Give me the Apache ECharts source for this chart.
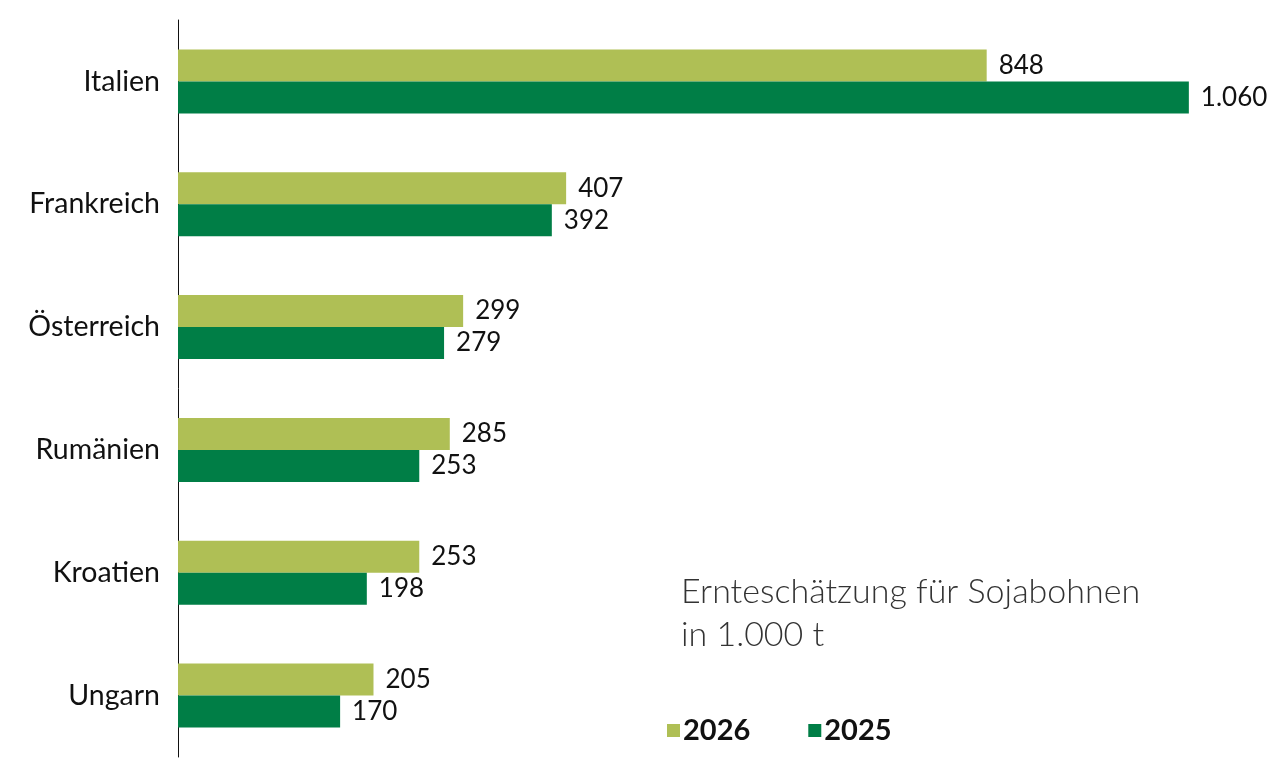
<!DOCTYPE html>
<html><head><meta charset="utf-8">
<script src="https://cdn.jsdelivr.net/npm/echarts@6/dist/echarts.min.js"></script>
<style>html,body{margin:0;padding:0;background:#fff}#c{width:1284px;height:773px}</style>
</head><body><div id="c"></div>
<script>
const categories = ['Italien','Frankreich','Österreich','Rumänien','Kroatien','Ungarn'];
const values2026 = [848, 407, 299, 285, 253, 205];
const values2025 = [1060, 392, 279, 253, 198, 170];
const seriesNames = ['2026','2025'];

const fmt = v => v.toLocaleString('de-DE');
const chart = echarts.init(document.getElementById('c'));
const labelStyle = {show:true, position:'right', distance:12, fontFamily:'Lato', fontSize:26, color:'#111', formatter: p => fmt(p.value)};
chart.setOption({
  animation:false,
  title:{text:'Ernteschätzung für Sojabohnen\nin 1.000 t', left:676, top:566,
    textStyle:{fontFamily:'Lato', fontWeight:300, fontSize:34, lineHeight:43, color:'#333'}},
  legend:{left:662, top:711, icon:'rect', itemWidth:13, itemHeight:13, itemGap:58,
    textStyle:{fontFamily:'Lato', fontWeight:'bold', fontSize:29, color:'#111', padding:[0,0,0,-2]},
    data:seriesNames},
  grid:{left:178, top:20, bottom:16, right:57, containLabel:false},
  xAxis:{type:'value', min:0, max:1100, show:false, splitLine:{show:false}},
  yAxis:{type:'category', data:categories, inverse:true,
    axisLine:{show:true, lineStyle:{color:'#111', width:1}}, axisTick:{show:false},
    axisLabel:{fontFamily:'Lato', fontSize:28.5, color:'#111', margin:18}},
  series:[
    {name:seriesNames[0], type:'bar', data:values2026, barWidth:32, barGap:'0%', itemStyle:{color:'#afbf55'}, label:labelStyle},
    {name:seriesNames[1], type:'bar', data:values2025, barWidth:32, barGap:'0%', itemStyle:{color:'#007e46'}, label:labelStyle}
  ]
});
</script></body></html>
